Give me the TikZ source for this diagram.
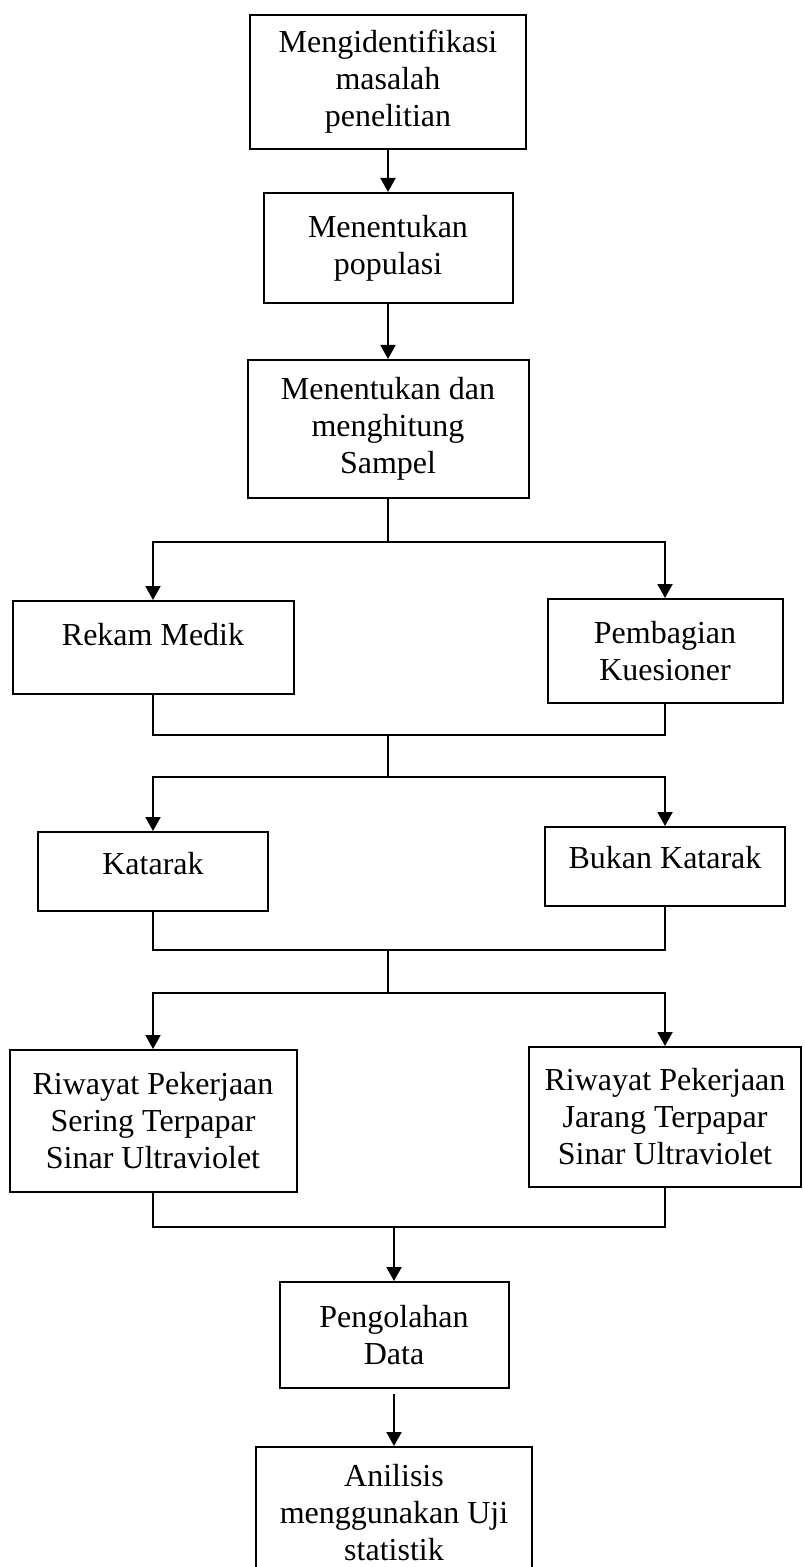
\documentclass[tikz,border=0pt]{standalone}
\usepackage{fontspec}
\setmainfont{Liberation Serif}
\usetikzlibrary{positioning}
\usetikzlibrary{arrows.meta}

\begin{document}
\begin{tikzpicture}[
        x=0.5pt, y=-0.5pt,
        box/.style={draw, line width=1pt, align=center, inner sep=0pt, font=\fontsize{16pt}{18.5pt}\selectfont},
        arrow/.style={line width=1pt, -{Triangle[width=7.5pt, length=7pt]}},
        line/.style={line width=1pt}
    ]
        \clip (0,0) rectangle (804,1567);
        \path[use as bounding box] (0,0) rectangle (804,1567);

        \node[box, minimum width=138pt, minimum height=67pt] (n0) at (388,82) {Mengidentifikasi\\masalah\\penelitian};
        \node[box, minimum width=124.5pt, minimum height=55pt, below=21pt of n0] (n1) {Menentukan\\populasi};
        \node[box, minimum width=140.5pt, minimum height=69pt, below=27.5pt of n1] (n2) {Menentukan dan\\menghitung\\Sampel};
        \node[box, minimum width=140.5pt, text height=22pt, text depth=24.5pt, below=50.5pt of n2, xshift=-117.5pt] (n3) {Rekam Medik};
        \node[box, minimum width=117.5pt, minimum height=52pt, below=49.5pt of n2, xshift=138.5pt] (n4) {Pembagian\\Kuesioner};
        \node[box, minimum width=115pt, text height=21pt, text depth=18.5pt, below=68pt of n3] (n5) {Katarak};
        \node[box, minimum width=120pt, text height=20.5pt, text depth=19pt, below=61pt of n4] (n6) {Bukan Katarak};
        \node[box, minimum width=143.5pt, minimum height=71pt, below=68.5pt of n5] (n7) {Riwayat Pekerjaan\\Sering Terpapar\\Sinar Ultraviolet};
        \node[box, minimum width=136pt, minimum height=70pt, below=69.5pt of n6] (n8) {Riwayat Pekerjaan\\Jarang Terpapar\\Sinar Ultraviolet};

        \coordinate (j1) at (388,542);
        \coordinate (j2) at (388,735);
        \coordinate (j3) at (388,777);
        \coordinate (j4) at (388,950);
        \coordinate (j5) at (388,993);
        \coordinate (j6) at (394,1227);

        \node[box, minimum width=114.5pt, minimum height=53pt, below=27pt of j6] (n9) {Pengolahan\\Data};
        \node[box, minimum width=138pt, text height=56.5pt, text depth=12.5pt, below=28.5pt of n9] (n10) {Anilisis\\menggunakan Uji\\statistik};

        \draw[arrow] (n0) -- (n1);
        \draw[arrow] (n1) -- (n2);
        \draw[line] (n2) -- (j1);
        \draw[arrow] (j1) -| (n3);
        \draw[arrow] (j1) -| (n4);
        \draw[line] (n3) |- (j2) -| (n4);
        \draw[line] (j2) -- (j3);
        \draw[arrow] (j3) -| (n5);
        \draw[arrow] (j3) -| (n6);
        \draw[line] (n5) |- (j4) -| (n6);
        \draw[line] (j4) -- (j5);
        \draw[arrow] (j5) -| (n7);
        \draw[arrow] (j5) -| (n8);
        \draw[line] (n7) |- (j6) -| (n8);
        \draw[arrow] (j6) -- (n9);
        \draw[arrow, shorten <=2.5pt] (n9) -- (n10);
    \end{tikzpicture}
\end{document}
